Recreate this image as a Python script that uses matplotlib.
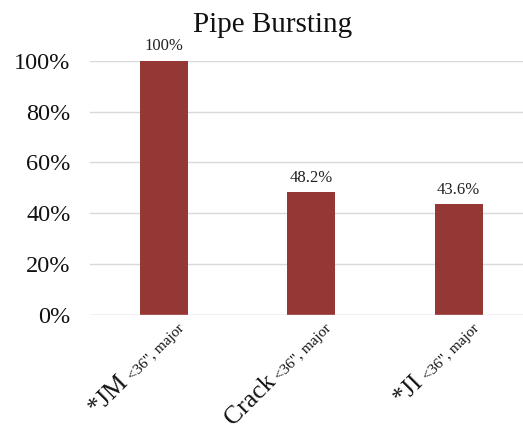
import math
import matplotlib
matplotlib.use("Agg")
import matplotlib.pyplot as plt
from matplotlib.ticker import PercentFormatter
from matplotlib import transforms

plt.rcParams['font.family'] = ['Liberation Serif', 'DejaVu Serif']

title = "Pipe Bursting"
categories = ["*JM", "Crack", "*JI"]
qualifiers = ['<36", major', '<36", major', '<36", major']
shares = [1.000, 0.482, 0.436]
value_labels = ["100%", "48.2%", "43.6%"]
yticks = [0.0, 0.2, 0.4, 0.6, 0.8, 1.0]

bar_color = "#953735"
grid_color = "#d9d9d9"
text_color = "#111111"

fig = plt.figure(figsize=(5.23, 4.38), dpi=100)
ax = fig.add_axes([0.172, 0.281, 0.846, 0.580])

x = list(range(len(categories)))
ax.bar(x, shares, width=0.325, color=bar_color, zorder=3)

ax.set_xlim(-0.5, 2.5)
ax.set_ylim(0, 1.0)
ax.set_yticks(yticks)
ax.yaxis.set_major_formatter(PercentFormatter(1.0, decimals=0))
ax.tick_params(axis='y', length=0, labelsize=17.5, pad=14, labelcolor=text_color)
ax.tick_params(axis='x', length=0)
ax.grid(axis='y', color=grid_color, linewidth=1, zorder=0)
for s in ax.spines.values():
    s.set_visible(False)
ax.axhline(0, color=grid_color, linewidth=1, zorder=4)

for xi, v, lab in zip(x, shares, value_labels):
    ax.annotate(lab, (xi, v), xytext=(0, 7.5), textcoords='offset points',
                ha='center', va='baseline', fontsize=12, color='#222222')

# Category labels: large name followed by a smaller, lowered qualifier,
# both rotated 45 degrees and ending just right of the bar centre.
ax.set_xticks(x)
ax.set_xticklabels([])
renderer = fig.canvas.get_renderer()
big_size, small_size = 18.5, 11
ang = math.radians(45)
ux, uy = math.cos(ang), math.sin(ang)
for xi, cat, q in zip(x, categories, qualifiers):
    probe = fig.text(0, 0, q, fontsize=small_size)
    w = probe.get_window_extent(renderer).width
    probe.remove()
    end_dx, end_dy = 21, -14
    base = ax.get_xaxis_transform()
    off_small = transforms.ScaledTranslation(end_dx / 100, end_dy / 100, fig.dpi_scale_trans)
    ax.text(xi, 0, q, transform=base + off_small, rotation=45,
            rotation_mode='anchor', ha='right', va='baseline',
            fontsize=small_size, color=text_color)
    # step back along the baseline, and lift perpendicular for the subscript drop
    gap = 4
    lift = 1.5
    bx = end_dx - (w + gap) * ux + lift * (-uy)
    by = end_dy - (w + gap) * uy + lift * ux
    off_big = transforms.ScaledTranslation(bx / 100, by / 100, fig.dpi_scale_trans)
    ax.text(xi, 0, cat, transform=base + off_big, rotation=45,
            rotation_mode='anchor', ha='right', va='baseline',
            fontsize=big_size, color=text_color)

fig.text(0.522, 1 - 32 / 438, title, ha='center', va='baseline', fontsize=21, color=text_color)

fig.savefig("out.png", dpi=100)
